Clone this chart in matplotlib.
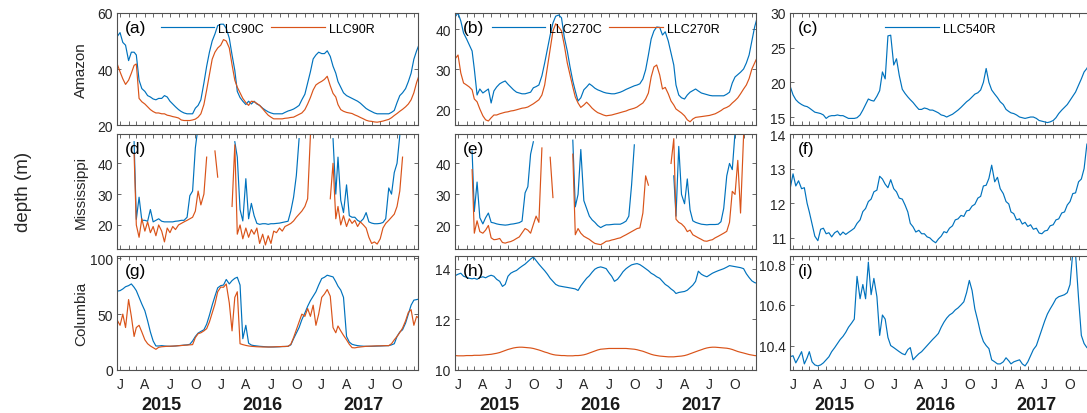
import numpy as np
import pandas as pd
import matplotlib
matplotlib.use('Agg')
import matplotlib.pyplot as plt
import matplotlib.dates as mdates
from matplotlib.ticker import FuncFormatter

plt.rcParams['font.family'] = ['Liberation Sans', 'DejaVu Sans']

nan = np.nan

# 10-day sampling: 21 Dec 2014, then the 1st, 11th and 21st of every month 2015-2017
dates = pd.to_datetime(['2014-12-21'] + [f'{y}-{m:02d}-{d:02d}' for y in (2015, 2016, 2017)
                                         for m in range(1, 13) for d in (1, 11, 21)])
years = [2015, 2016, 2017]

# ---- Amazon ----
amazon_90c = [51.5,
    53, 49.5, 48.5, 43, 46, 46, 45, 36, 33, 32, 30.5, 30, 29.3, 29, 29.5, 29.5, 30.5, 30,
    28.5, 27.5, 26.5, 25.5, 24.8, 24.3, 24, 24, 24, 26, 27, 29, 35, 41, 46, 50, 52.5, 55.5,
    56, 56, 54.5, 51, 45, 39.5, 32, 29.8, 28.5, 27.3, 28.5, 27.5, 28.5, 27.5, 27, 26, 25.3, 24.7,
    24.3, 24, 24, 24, 24, 24.5, 25, 25.3, 25.7, 26.3, 27, 29, 31, 35, 39, 43.6, 45, 46,
    45.5, 45.5, 46.5, 44.5, 41, 38.5, 35.5, 33.5, 31.5, 30.5, 30, 29.5, 29, 28.5, 27.8, 26.8, 25.9, 25.3,
    24.8, 24.3, 24, 24, 24, 24, 24, 24.5, 25.2, 28, 30.5, 31.5, 33, 35.5, 38.5, 43.5, 46.5, 49]
amazon_90r = [42,
    39, 36.5, 34.5, 36, 38.5, 41.3, 41.8, 29.5, 28.3, 27.5, 26.5, 25.5, 24.8, 24.3, 24.3, 24, 24, 23.5,
    23.3, 23, 22.8, 22.5, 21.8, 21.6, 21.6, 21.6, 21.8, 22.1, 22.8, 24, 27.3, 32.5, 38, 43.5, 46, 47.5,
    48.5, 50.5, 50, 47.5, 41.5, 36, 33.5, 31.5, 29.5, 28, 27, 28.5, 28.3, 27.7, 27, 25.8, 24.6, 23.5,
    22.8, 22.2, 22.2, 22.2, 22.2, 22.4, 22.5, 22.7, 22.8, 23.3, 23.8, 24.3, 25.5, 27.5, 29.8, 32.5, 34.3, 35,
    35.6, 36.3, 37.4, 34, 31.3, 30, 27.3, 25.5, 24.9, 24.5, 24.3, 24.1, 23.6, 23.2, 22.7, 22.2, 21.7, 21.4,
    21.3, 21.1, 21, 21.2, 21.4, 21.7, 22, 22.6, 23.4, 24.1, 24.9, 25.6, 26.5, 27.5, 29, 31.5, 35.2, 38]
amazon_270c = [43,
    44, 42, 39, 37.5, 36, 34.5, 30, 23.5, 25, 24, 24.5, 25, 21.5, 24.5, 25.5, 26.3, 26.7, 27,
    26.2, 25.5, 24.8, 24.2, 24, 23.8, 23.8, 24, 24.2, 25.3, 25.6, 26, 28.3, 31.5, 35, 38.5, 41.5, 43.2,
    43.5, 42.8, 38, 34.5, 30.5, 27, 24.5, 22, 22.8, 24.8, 25.5, 26.3, 25.8, 25.2, 24.8, 24.5, 24.2, 24,
    23.9, 23.8, 23.8, 24, 24.2, 24.5, 24.9, 25.2, 25.5, 25.8, 26, 26.3, 27.5, 29.8, 33.5, 37.5, 39.5, 40.5,
    40.4, 38.5, 39.3, 37, 34, 31, 26, 23.5, 22.8, 22.5, 23.5, 24.2, 24.6, 25, 24.5, 24, 23.8, 23.6,
    23.4, 23.3, 23.3, 23.3, 23.3, 23.3, 23.7, 24.2, 26.5, 28, 28.6, 29.2, 30, 31.5, 33.5, 37, 40.5, 43]
amazon_270r = [32.5,
    33.5, 29, 26.5, 26, 25.5, 24.8, 22.5, 21.8, 20, 18.3, 17.3, 17, 17.8, 18.5, 18.5, 18.8, 19, 19.2,
    19.3, 19.5, 19.6, 19.8, 20, 20.2, 20.3, 20.5, 20.9, 21.3, 21.8, 22.3, 23.5, 26, 30.5, 35, 39.5, 41.3,
    40.5, 39.5, 36, 31.5, 28.5, 25.5, 23, 21.5, 20.4, 21, 21.7, 21, 20.2, 19.6, 19.1, 18.8, 18.5, 18.3,
    18.4, 18.5, 18.7, 18.9, 19.1, 19.3, 19.5, 19.8, 20, 20.2, 20.5, 21, 21.5, 22.5, 24, 28, 30.5, 31,
    28.5, 25, 25.4, 23.8, 22, 21, 20, 19.5, 19, 18.3, 17.3, 16.8, 17.5, 17.9, 18, 18.1, 18.2, 18.3,
    18.4, 18.6, 18.8, 19.2, 19.6, 20.1, 20.4, 20.8, 21.5, 22.1, 22.8, 23.8, 25, 26, 27.6, 30, 31.5, 33]
amazon_540r = [19.5,
    18.2, 17.5, 17.1, 16.8, 16.6, 16.5, 16.3, 16, 15.7, 15.6, 15.5, 15.3, 14.8, 15.1, 15.2, 15.2, 15.3, 15.2,
    15.2, 15, 14.8, 14.8, 14.8, 14.9, 15.3, 16, 16.8, 17.6, 17.4, 17.3, 18, 18.8, 21.5, 20.5, 26.7, 26.8,
    22.5, 23.4, 21, 19, 18.4, 17.9, 17.5, 17.1, 16.6, 16.1, 16.1, 16.3, 16.2, 16, 16, 15.8, 15.6, 15.3,
    15.2, 15, 15.2, 15.4, 15.7, 16, 16.4, 16.8, 17.2, 17.5, 17.9, 18.3, 18.5, 18.9, 20, 22, 20, 18.9,
    18.3, 17.8, 17.2, 16.8, 16.1, 15.8, 15.6, 15.5, 15.3, 15, 14.9, 14.8, 14.9, 15, 15, 14.8, 14.5, 14.4,
    14.3, 14.2, 14.3, 14.5, 14.9, 15.5, 16, 16.4, 16.8, 17.4, 18, 18.6, 19.6, 20.5, 21.5, 22, 22.8, 23.5]

# ---- Mississippi (gaps where depth runs off the scale) ----
miss_90c = [nan] * 6 + [
    47, 21.8, 29, 21.5, 21.5, 21.2, 25, 21, 21.5, 22, 21.2, 21,
    21, 21, 21, 21.2, 21.3, 21.5, 21.5, 22.5, 29.5, 31, 45, 52] + [nan] * 12 + [
    47, 42, 25, 21.3, 35, 22, 27, 23, 20.5, 20.2, 20.4, 20.4,
    20.2, 20.4, 20.4, 20.5, 20.6, 20.8, 21, 21.2, 24.5, 29, 36, 48] + [nan] * 11 + [
    48, 30, 42, 28, 24, 33, 23, 22.5, 22.5, 21.5, 21, 22,
    24, 21, 20.6, 20.4, 20.4, 20.5, 20.8, 22, 32, 30, 37, 40, 49] + [nan] * 7
miss_90r = [nan] * 6 + [
    43, 20, 16, 22, 18, 21, 17.5, 19.5, 16.5, 20, 18, 14.5, 19, 17.5,
    19.5, 18.5, 20, 20.5, 21, 21.5, 22, 22.5, 24.5, 31, 26.5, 30, 42] + [nan] * 2 + [
    44, 35.5] + [nan] * 4 + [
    26, 46, 17, 20, 15.5, 19, 16, 18.5, 17, 19, 14, 17, 13.5, 16.5, 14,
    18, 17.5, 19, 18, 19.5, 20, 20.5, 21.3, 22.5, 23.5, 24.5, 26, 28.5, 49] + [nan] * 6 + [
    28.5, 40, 22, 26, 20, 23, 19.5, 22, 20.5, 21.5, 19.5, 21, 20, 19,
    16, 14, 14.5, 13.8, 15.5, 19, 20.5, 21.5, 22.5, 23.5, 26, 31, 42] + [nan] * 6
miss_270c = [nan] * 6 + [
    44, 24.5, 34, 22.5, 20.5, 22.5, 24, 21, 20.8, 20.5, 20.3, 20.2,
    20.1, 20.2, 20.4, 20.5, 20.7, 20.9, 21.4, 30.5, 32.5, 43, 47] + [nan] * 13 + [
    47.5, 26, 30, 44.5, 28, 25.5, 23, 21.8, 21, 20, 19.3, 19.8,
    20.2, 20.2, 20.3, 20.4, 20.4, 20.4, 20.8, 21.4, 23, 33, 46] + [nan] * 13 + [
    36, 23, 45.5, 30, 27, 35, 25, 21.5, 21, 20.7, 20.4, 20.3,
    20.2, 20.3, 20.3, 20.3, 20.4, 21.2, 25.5, 36, 40, 38, 50] + [nan] * 8
miss_270r = [nan] * 6 + [
    38, 17.5, 21.5, 18, 17.5, 18.5, 20, 16, 15.4, 15.5, 15.8, 14.5, 14.3,
    14.6, 14.8, 15.2, 15.8, 16.3, 17.6, 19, 18.5, 17.5, 20.3, 23, 21, 45] + [nan] * 2 + [
    42, 29] + [nan] * 6 + [
    43, 17, 19, 17.5, 16.5, 16, 15.5, 14.8, 14.2, 14, 13.8, 14.3, 14.9, 15,
    15.3, 15.5, 15.8, 16, 16.5, 17, 17.5, 18, 18.5, 19, 19.2, 24, 36, 33] + [nan] * 7 + [
    40, 48, 22, 21, 20.5, 19.5, 18, 18.5, 17, 16.5, 16, 15.5, 15, 14.9,
    15.2, 15.4, 16, 16.5, 17, 17.5, 18.1, 21, 31, 30, 41, 24, 49] + [nan] * 5
miss_540r = [12.4,
    12.85, 12.5, 12.65, 12.42, 12.45, 12.0, 11.75, 11.4, 11.05, 10.92, 11.25, 11.28,
    11.12, 11.15, 11.03, 11.15, 11.2, 11.08, 11.17, 11.1, 11.16, 11.22, 11.28, 11.42,
    11.52, 11.76, 11.85, 12.05, 12.12, 12.33, 12.38, 12.78, 12.7, 12.55, 12.45, 12.68,
    12.42, 12.33, 12.15, 12.12, 11.95, 11.75, 11.42, 11.32, 11.17, 11.22, 11.12, 11.12,
    11.03, 11.0, 10.92, 10.86, 10.97, 11.05, 11.18, 11.15, 11.28, 11.35, 11.52, 11.55,
    11.65, 11.62, 11.78, 11.8, 11.92, 11.97, 12.15, 12.2, 12.5, 12.52, 12.72, 13.1,
    12.62, 12.75, 12.42, 12.28, 12.05, 11.98, 11.75, 11.7, 11.52, 11.55, 11.4, 11.45,
    11.33, 11.38, 11.25, 11.28, 11.14, 11.12, 11.2, 11.22, 11.35, 11.38, 11.52, 11.55,
    11.72, 11.75, 11.95, 12.05, 12.28, 12.3, 12.62, 12.7, 13.0, 13.7, 13.85, 14.0]

# ---- Columbia ----
col_90c = [70.5,
    71, 72.5, 74.5, 75.5, 77, 74, 71, 65, 59, 53, 44, 34, 26, 21.5, 21.5, 21.8, 21.5, 21.3,
    21.2, 21.3, 21.5, 21.8, 22, 22.3, 22.5, 23, 26, 30, 33, 34.5, 36, 41, 49, 58, 66, 73.5,
    75.5, 76, 81, 77, 80, 82, 83, 76, 28, 40, 24, 22.3, 21.8, 21.5, 21.2, 21, 20.8, 20.6,
    20.6, 20.6, 20.7, 20.8, 21, 21, 21.2, 22.5, 28, 33, 38, 45, 51, 57, 62, 66, 70, 76,
    81.8, 83, 84.8, 84, 83.3, 79, 75, 71.5, 65, 30, 25, 23, 22.3, 21.8, 21.5, 21.3, 21.2, 21.2,
    21.2, 21.3, 21.4, 21.5, 21.6, 21.7, 21.8, 22.5, 23.5, 30, 34, 36, 42, 50, 58, 62.5, 63, 63.5]
col_90r = [45,
    40, 50, 38, 63, 48, 30, 38, 40, 34, 27, 23.5, 21.5, 20, 18.5, 20.3, 20.8, 21, 21.2,
    21.3, 21.4, 21.5, 21.7, 21.9, 22.1, 22.3, 22.5, 22.7, 29, 32.5, 33.3, 35, 37, 43, 51, 59, 70,
    74.2, 74, 77, 60, 35, 65, 70, 23.5, 22.7, 22, 21.5, 21.2, 21, 20.8, 20.7, 20.6, 20.6, 20.6,
    20.6, 20.7, 20.8, 20.9, 21, 21.1, 21.2, 23, 29, 36, 43, 50, 48, 55, 48, 58, 40, 50,
    65, 68, 72, 66, 38, 33.3, 39.4, 35, 31, 27, 23, 20, 19.8, 20.3, 20.6, 20.9, 21.2, 21.3,
    21.4, 21.5, 21.6, 21.6, 21.7, 21.8, 21.8, 23.5, 27, 30, 33.5, 37.5, 44, 51.5, 54, 40, 48, 46]
col_270c = [13.72,
    13.78, 13.82, 13.7, 13.66, 13.62, 13.6, 13.62, 13.58, 13.65, 13.68, 13.64, 13.7,
    13.74, 13.7, 13.58, 13.5, 13.3, 13.38, 13.7, 13.82, 13.88, 13.93, 14.02, 14.1,
    14.18, 14.28, 14.38, 14.46, 14.32, 14.18, 14.04, 13.92, 13.78, 13.62, 13.5, 13.38,
    13.32, 13.3, 13.28, 13.26, 13.24, 13.22, 13.2, 13.14, 13.32, 13.48, 13.62, 13.72,
    13.86, 13.98, 14.04, 14.07, 14.04, 14.0, 13.84, 13.7, 13.5, 13.58, 13.72, 13.88,
    14.0, 14.08, 14.15, 14.18, 14.2, 14.16, 14.08, 14.0, 13.92, 13.82, 13.76, 13.68,
    13.62, 13.5, 13.38, 13.3, 13.2, 13.12, 13.02, 13.06, 13.08, 13.1, 13.15, 13.25,
    13.35, 13.5, 13.9, 13.78, 13.72, 13.68, 13.75, 13.82, 13.87, 13.92, 13.96, 14.0,
    14.06, 14.12, 14.1, 14.08, 14.06, 14.04, 14.0, 13.8, 13.65, 13.52, 13.45, 13.42]
col_270r = [10.57,
    10.56, 10.56, 10.56, 10.57, 10.57, 10.57, 10.58, 10.58, 10.58, 10.59, 10.6, 10.61,
    10.62, 10.64, 10.66, 10.69, 10.73, 10.77, 10.81, 10.84, 10.87, 10.89, 10.9, 10.9,
    10.89, 10.88, 10.87, 10.85, 10.82, 10.79, 10.75, 10.71, 10.68, 10.64, 10.61, 10.59,
    10.58, 10.57, 10.57, 10.56, 10.56, 10.56, 10.57, 10.57, 10.58, 10.6, 10.63, 10.67,
    10.71, 10.75, 10.79, 10.82, 10.83, 10.84, 10.85, 10.85, 10.85, 10.85, 10.85, 10.85,
    10.85, 10.84, 10.83, 10.82, 10.8, 10.77, 10.74, 10.7, 10.66, 10.62, 10.59, 10.57,
    10.55, 10.54, 10.53, 10.52, 10.52, 10.52, 10.53, 10.54, 10.55, 10.57, 10.6, 10.64,
    10.68, 10.72, 10.76, 10.8, 10.84, 10.87, 10.89, 10.9, 10.9, 10.89, 10.88, 10.87,
    10.86, 10.84, 10.81, 10.77, 10.73, 10.7, 10.67, 10.64, 10.61, 10.59, 10.57, 10.56]
col_540r = [10.345,
    10.35, 10.315, 10.34, 10.37, 10.31, 10.34, 10.37, 10.32, 10.305, 10.3, 10.305, 10.315,
    10.33, 10.345, 10.37, 10.39, 10.41, 10.43, 10.445, 10.465, 10.49, 10.51, 10.53, 10.74,
    10.63, 10.7, 10.63, 10.81, 10.65, 10.73, 10.64, 10.45, 10.55, 10.53, 10.44, 10.4,
    10.39, 10.38, 10.37, 10.36, 10.355, 10.38, 10.39, 10.33, 10.345, 10.36, 10.37, 10.385,
    10.4, 10.415, 10.43, 10.445, 10.46, 10.49, 10.515, 10.535, 10.55, 10.56, 10.575, 10.585,
    10.6, 10.615, 10.66, 10.72, 10.67, 10.58, 10.52, 10.46, 10.42, 10.4, 10.385, 10.33,
    10.32, 10.31, 10.31, 10.32, 10.34, 10.325, 10.31, 10.32, 10.325, 10.33, 10.31, 10.3,
    10.32, 10.35, 10.38, 10.4, 10.44, 10.48, 10.52, 10.555, 10.58, 10.605, 10.63, 10.64,
    10.645, 10.65, 10.66, 10.7, 10.86, 10.85, 10.63, 10.45, 10.41, 10.39, 10.38, 10.37]

rivers = ['Amazon', 'Mississippi', 'Columbia']
BLUE = '#0072BD'
ORANGE = '#D95319'

# label, row, col, series, legend labels, ylim, yticks
panels = [
    ('(a)', 0, 0, [amazon_90c, amazon_90r], ['LLC90C', 'LLC90R'], (20, 60), [20, 40, 60]),
    ('(b)', 0, 1, [amazon_270c, amazon_270r], ['LLC270C', 'LLC270R'], (16, 44), [20, 30, 40]),
    ('(c)', 0, 2, [amazon_540r], ['LLC540R'], (13.85, 30), [15, 20, 25, 30]),
    ('(d)', 1, 0, [miss_90c, miss_90r], None, (12.2, 49.5), [20, 30, 40]),
    ('(e)', 1, 1, [miss_270c, miss_270r], None, (12.4, 49.5), [20, 30, 40]),
    ('(f)', 1, 2, [miss_540r], None, (10.68, 14), [11, 12, 13, 14]),
    ('(g)', 2, 0, [col_90c, col_90r], None, (0, 102), [0, 50, 100]),
    ('(h)', 2, 1, [col_270c, col_270r], None, (10, 14.5), [10, 12, 14]),
    ('(i)', 2, 2, [col_540r], None, (10.28, 10.84), [10.4, 10.6, 10.8]),
]

W, H = 1087, 414
fig = plt.figure(figsize=(W / 100, H / 100), dpi=100)
lefts = [117, 455, 790]
rows = [(14, 126), (135, 250), (257, 371)]
edge = '#505050'


def month_letter(x, pos):
    m = mdates.num2date(x).month
    return {1: 'J', 4: 'A', 7: 'J', 10: 'O'}.get(m, '')


for lab, r, c, series, names, ylim, yticks in panels:
    top, bot = rows[r]
    ax = fig.add_axes([lefts[c] / W, 1 - bot / H, 301 / W, (bot - top) / H])
    colors = [BLUE, ORANGE] if len(series) == 2 else [BLUE]
    for s, col, nm in zip(series, colors, names or [None] * len(series)):
        ax.plot(dates, s, color=col, lw=0.85, label=nm)
    ax.set_xlim(pd.Timestamp('2014-12-21'), pd.Timestamp('2017-12-16'))
    ax.set_ylim(*ylim)
    ax.set_yticks(yticks)
    ax.yaxis.set_major_formatter(FuncFormatter(lambda v, p: f'{v:g}'))
    ax.xaxis.set_major_locator(mdates.MonthLocator())
    ax.xaxis.set_major_formatter(FuncFormatter(month_letter))
    ax.tick_params(direction='in', top=True, right=True, length=3, width=0.6,
                   color=edge, labelsize=10, labelcolor='#262626', pad=3)
    ax.tick_params(axis='x', pad=5)
    for sp in ax.spines.values():
        sp.set_color(edge)
        sp.set_linewidth(0.8)
    if r < 2:
        ax.tick_params(axis='x', labelbottom=False)
    else:
        for yr in years:
            ax.text(pd.Timestamp(f'{yr}-06-01'), -0.30, str(yr), transform=ax.get_xaxis_transform(),
                    ha='center', va='center', fontsize=13, fontweight='bold', color='#1a1a1a')
    if c == 0:
        ax.set_ylabel(rivers[r], fontsize=11, color='#262626')
        ax.yaxis.set_label_coords(-0.097, 0.5)
    ax.text(0.027, 0.87, lab, transform=ax.transAxes, fontsize=12.5, va='center', ha='left')
    if names:
        ax.legend(loc='center', bbox_to_anchor=(0.5, 0.86), ncol=len(names), frameon=False,
                  fontsize=9, handlelength=4.3, handletextpad=0.3, columnspacing=0.6,
                  borderaxespad=0, borderpad=0)

fig.text(24 / W, 1 - 192 / H, 'depth (m)', rotation=90, ha='center', va='center',
         fontsize=13.5, color='#262626')

fig.savefig('out.png', dpi=100)
